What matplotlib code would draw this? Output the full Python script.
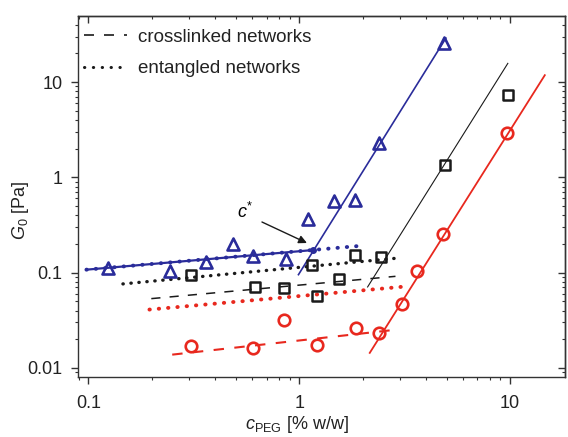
import matplotlib
matplotlib.use("Agg")
import matplotlib.pyplot as plt
from matplotlib.lines import Line2D
from matplotlib.markers import MarkerStyle
from matplotlib.ticker import LogLocator, NullFormatter, FixedLocator, FixedFormatter

plt.rcParams['font.family'] = ['Liberation Sans', 'DejaVu Sans']
plt.rcParams['mathtext.fontset'] = 'custom'
plt.rcParams['mathtext.rm'] = 'Liberation Sans'
plt.rcParams['mathtext.it'] = 'Liberation Sans:italic'

# ---- data ----
blue_c = [0.1245, 0.245, 0.363, 0.487, 0.602, 0.863, 1.095, 1.457, 1.83, 2.40, 4.87]
blue_G = [0.113, 0.103, 0.129, 0.200, 0.151, 0.139, 0.368, 0.571, 0.58, 2.31, 25.8]

black_c = [0.308, 0.617, 0.85, 1.15, 1.22, 1.54, 1.83, 2.45, 4.90, 9.75]
black_G = [0.0937, 0.0708, 0.0692, 0.121, 0.0574, 0.0859, 0.154, 0.146, 1.35, 7.31]

red_c = [0.308, 0.602, 0.85, 1.22, 1.86, 2.40, 3.08, 3.60, 4.83, 9.68]
red_G = [0.0169, 0.0163, 0.0322, 0.0176, 0.0264, 0.0235, 0.047, 0.103, 0.254, 2.90]

# fit lines (end points)
blue_steep_c = [0.992, 4.96]
blue_steep_G = [0.0953, 28.9]
blue_ent_c = [0.098, 2.0]
blue_ent_G = [0.1075, 0.192]
blue_solid_c = [0.098, 1.16]
blue_solid_G = [0.1075, 0.1726]
black_ent_c = [0.146, 2.97]
black_ent_G = [0.0762, 0.1425]
black_cross_c = [0.199, 2.86]
black_cross_G = [0.0534, 0.0915]
black_steep_c = [2.11, 9.75]
black_steep_G = [0.0708, 15.7]
red_ent_c = [0.195, 3.26]
red_ent_G = [0.041, 0.0719]
red_cross_c = [0.25, 2.92]
red_cross_G = [0.0138, 0.0253]
red_steep_c = [2.16, 14.6]
red_steep_G = [0.0144, 11.8]

cstar_c = [1.16]
cstar_G = [0.1726]

x_ticks = [0.1, 1, 10]
x_ticklabels = ['0.1', '1', '10']
y_ticks = [0.01, 0.1, 1, 10]
y_ticklabels = ['0.01', '0.1', '1', '10']

BLUE = '#2a2c9a'
RED = '#e8281e'
BLACK = '#1a1a1a'

fig = plt.figure(figsize=(5.68, 4.37), dpi=100)
ax = fig.add_axes([78/568, (437-377)/437, (565-78)/568, (377-16)/437])
ax.set_xscale('log')
ax.set_yscale('log')
ax.set_xlim(0.0894, 18.2)
ax.set_ylim(0.00804, 49.3)

dot = (0, (0.1, 2.3))

# entangled (dotted) and crosslinked (dashed) fits
ax.plot(blue_solid_c, blue_solid_G, color=BLUE, lw=1.6, solid_capstyle='butt')
ax.plot(blue_ent_c, blue_ent_G, color=BLUE, lw=2.8, linestyle=dot, dash_capstyle='round')
ax.plot(black_ent_c, black_ent_G, color=BLACK, lw=2.4, linestyle=dot, dash_capstyle='round')
ax.plot(red_ent_c, red_ent_G, color=RED, lw=2.8, linestyle=dot, dash_capstyle='round')
ax.plot(black_cross_c, black_cross_G, color=BLACK, lw=1.1, linestyle=(0, (6, 6)))
ax.plot(red_cross_c, red_cross_G, color=RED, lw=1.5, linestyle=(0, (5, 5)))

# steep lines
ax.plot(blue_steep_c, blue_steep_G, color=BLUE, lw=1.2)
ax.plot(black_steep_c, black_steep_G, color=BLACK, lw=0.8)
ax.plot(red_steep_c, red_steep_G, color=RED, lw=1.3)

tri = MarkerStyle('^', joinstyle='round')
sq = MarkerStyle('s', joinstyle='round')
ax.plot(blue_c, blue_G, linestyle='none', marker=tri, ms=9, mfc='none',
        mec=BLUE, mew=1.9)
ax.plot(black_c, black_G, linestyle='none', marker=sq, ms=7, mfc='none',
        mec=BLACK, mew=1.8)
ax.plot(red_c, red_G, linestyle='none', marker='o', ms=8.3, mfc='none',
        mec=RED, mew=1.9)
ax.plot(cstar_c, cstar_G, linestyle='none', marker='o', ms=4, color=BLUE)

# c* annotation
ax.text(0.553, 0.4325, r'$c^{*}$', fontsize=13, ha='center', va='center')
ax.annotate('', xy=(1.088, 0.2047), xytext=(0.666, 0.34),
            arrowprops=dict(arrowstyle='-|>', color=BLACK, lw=1.0,
                            mutation_scale=12, shrinkA=0, shrinkB=0))

# ticks
ax.xaxis.set_major_locator(FixedLocator(x_ticks))
ax.xaxis.set_major_formatter(FixedFormatter(x_ticklabels))
ax.yaxis.set_major_locator(FixedLocator(y_ticks))
ax.yaxis.set_major_formatter(FixedFormatter(y_ticklabels))
ax.xaxis.set_minor_locator(LogLocator(base=10, subs=range(2, 10), numticks=20))
ax.yaxis.set_minor_locator(LogLocator(base=10, subs=range(2, 10), numticks=20))
ax.xaxis.set_minor_formatter(NullFormatter())
ax.yaxis.set_minor_formatter(NullFormatter())
ax.tick_params(which='major', direction='out', length=5, width=1.0, labelsize=13,
               color='#333333', labelcolor='#222222')
ax.tick_params(which='minor', direction='out', length=2.5, width=0.8, color='#333333')
ax.tick_params(axis='x', which='major', pad=8)
ax.tick_params(axis='y', which='major', pad=6)

for s in ax.spines.values():
    s.set_linewidth(1.0)
    s.set_color('#333333')

# mirrored inward ticks on top and right
sx = ax.secondary_xaxis('top')
sx.set_xscale('log')
sx.xaxis.set_major_locator(FixedLocator(x_ticks))
sx.xaxis.set_minor_locator(LogLocator(base=10, subs=range(2, 10), numticks=20))
sx.xaxis.set_major_formatter(NullFormatter())
sx.xaxis.set_minor_formatter(NullFormatter())
sx.tick_params(which='major', direction='in', length=5, width=1.0, color='#333333')
sx.tick_params(which='minor', direction='in', length=2.5, width=0.8, color='#333333')
sy = ax.secondary_yaxis('right')
sy.set_yscale('log')
sy.yaxis.set_major_locator(FixedLocator(y_ticks))
sy.yaxis.set_minor_locator(LogLocator(base=10, subs=range(2, 10), numticks=20))
sy.yaxis.set_major_formatter(NullFormatter())
sy.yaxis.set_minor_formatter(NullFormatter())
sy.tick_params(which='major', direction='in', length=5, width=1.0, color='#333333')
sy.tick_params(which='minor', direction='in', length=2.5, width=0.8, color='#333333')
for sec in (sx, sy):
    for s in sec.spines.values():
        s.set_linewidth(1.0)
        s.set_color('#333333')

ax.set_xlabel(r'$c_{\rm PEG}$ [% w/w]', fontsize=13, color='#222222',
              family='Liberation Sans')
ax.set_ylabel(r'$G_0$ [Pa]', fontsize=13, color='#222222',
              family='Liberation Sans')
ax.xaxis.set_label_coords((297-78)/487, -(414-377)/361)
ax.yaxis.set_label_coords(-(78-31)/487, 1-(210-16)/361)

# legend
handles = [Line2D([], [], color=BLACK, lw=1.2, linestyle=(0, (6, 6))),
           Line2D([], [], color=BLACK, lw=2.2, linestyle=(0, (0.1, 2.8)),
                  dash_capstyle='round')]
labels = ['crosslinked networks', 'entangled networks']
leg = ax.legend(handles, labels, loc='upper left', bbox_to_anchor=(0.0, 0.98),
                frameon=False, fontsize=13.5, handlelength=2.3, handletextpad=0.6,
                labelspacing=0.75, borderpad=0.3, borderaxespad=0.0)
for t in leg.get_texts():
    t.set_color('#222222')

fig.savefig('out.png', dpi=100)
